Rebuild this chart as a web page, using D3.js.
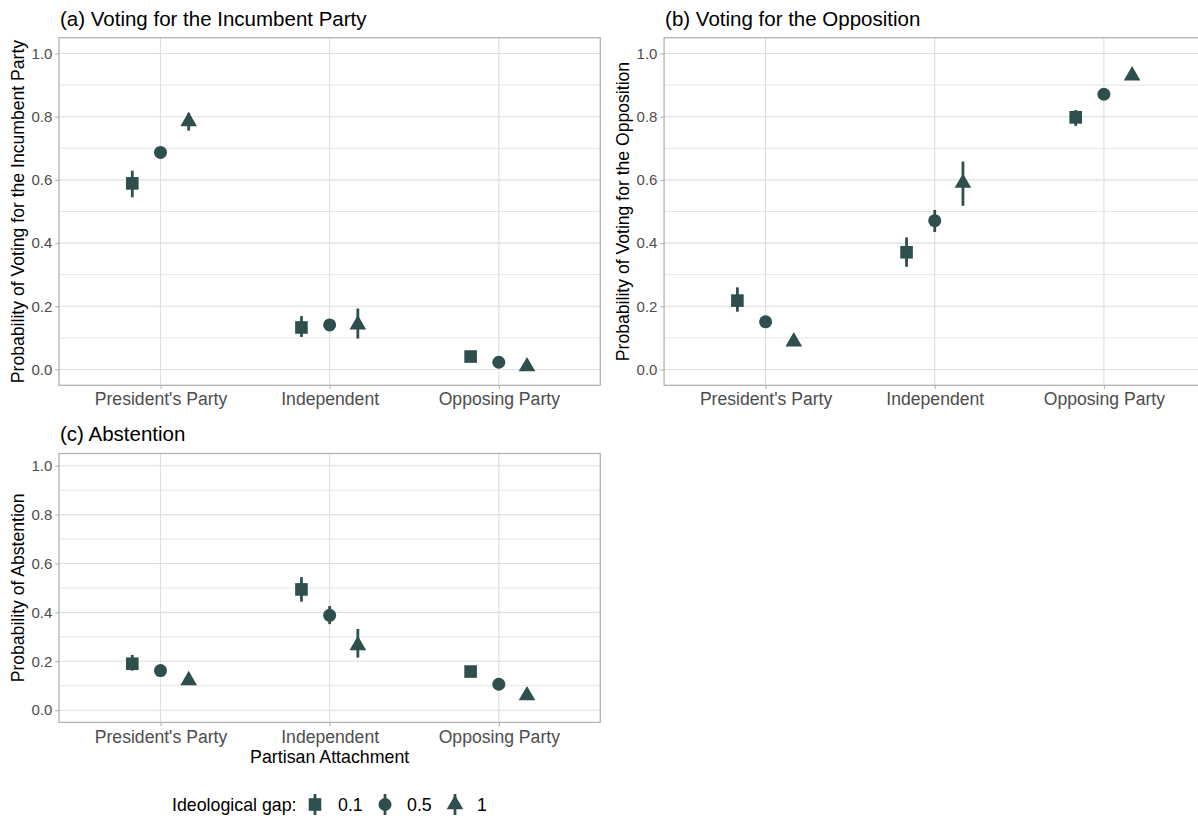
<!DOCTYPE html>
<html>
<head>
<meta charset="utf-8">
<script src="https://cdn.jsdelivr.net/npm/d3@7"></script>
<style>
  body { margin: 0; background: #fff; }
  svg { display: block; }
  text { font-family: "Liberation Sans", Arial, Helvetica, sans-serif; }
</style>
</head>
<body>
<svg id="chart" width="1198" height="816"></svg>
<script>
// Partisan attachment categories and ideological-gap levels
const categories = ["President's Party", "Independent", "Opposing Party"];
const gapLevels = ["0.1", "0.5", "1"];
const yTicks = [0, 0.2, 0.4, 0.6, 0.8, 1.0];
const yMinor = [0.1, 0.3, 0.5, 0.7, 0.9];

// Predicted probabilities: rows = category, columns = ideological gap
const incumbentEst = [[0.589, 0.687, 0.785], [0.133, 0.141, 0.142], [0.041, 0.023, 0.0095]];
const incumbentLo  = [[0.545, 0.673, 0.756], [0.103, 0.122, 0.098], [0.033, 0.017, 0.005]];
const incumbentHi  = [[0.629, 0.701, 0.812], [0.169, 0.160, 0.193], [0.049, 0.029, 0.015]];

const oppositionEst = [[0.218, 0.151, 0.088], [0.371, 0.471, 0.590], [0.798, 0.871, 0.930]];
const oppositionLo  = [[0.183, 0.138, 0.080], [0.325, 0.435, 0.518], [0.771, 0.858, 0.920]];
const oppositionHi  = [[0.260, 0.164, 0.097], [0.418, 0.505, 0.658], [0.821, 0.884, 0.940]];

const abstentionEst = [[0.190, 0.162, 0.122], [0.494, 0.388, 0.265], [0.158, 0.106, 0.060]];
const abstentionLo  = [[0.162, 0.150, 0.112], [0.444, 0.352, 0.215], [0.148, 0.097, 0.054]];
const abstentionHi  = [[0.226, 0.175, 0.132], [0.544, 0.426, 0.332], [0.168, 0.115, 0.066]];

const INK = "#2F4F4F";
const symbolTypes = [d3.symbolSquare, d3.symbolCircle, d3.symbolTriangle];
const symbolSizes = [159, 133, 120];

const svg = d3.select("#chart");
svg.append("rect").attr("width", 1198).attr("height", 816).attr("fill", "#fff");

const panels = [
  { title: "(a) Voting for the Incumbent Party",
    yTitle: "Probability of Voting for the Incumbent Party",
    est: incumbentEst, lo: incumbentLo, hi: incumbentHi,
    x0: 59, x1: 600.3, y0: 37.7, y1: 385.3, titleY: 25.5, yTitleX: 24, tickEnd: 52.3 },
  { title: "(b) Voting for the Opposition",
    yTitle: "Probability of Voting for the Opposition",
    est: oppositionEst, lo: oppositionLo, hi: oppositionHi,
    x0: 664.1, x1: 1205.4, y0: 37.7, y1: 385.3, titleY: 25.5, yTitleX: 628.5 },
  { title: "(c) Abstention",
    yTitle: "Probability of Abstention",
    est: abstentionEst, lo: abstentionLo, hi: abstentionHi,
    x0: 59, x1: 600.3, y0: 453.5, y1: 722.4, titleY: 441, yTitleX: 24,
    xTitle: "Partisan Attachment" }
];

panels.forEach(p => {
  const g = svg.append("g");
  const x = d3.scalePoint().domain(categories).range([p.x0, p.x1]).padding(0.6);
  const step = x.step();
  const dodge = d3.scalePoint().domain(gapLevels).range([-step / 6, step / 6]);
  const y = d3.scaleLinear().domain([-0.05, 1.05]).range([p.y1, p.y0]);

  // grid lines
  g.selectAll(".minor").data(yMinor).join("line")
    .attr("x1", p.x0).attr("x2", p.x1)
    .attr("y1", d => y(d)).attr("y2", d => y(d))
    .attr("stroke", "#E6E6E6").attr("stroke-width", 1);
  g.selectAll(".major").data(yTicks).join("line")
    .attr("x1", p.x0).attr("x2", p.x1)
    .attr("y1", d => y(d)).attr("y2", d => y(d))
    .attr("stroke", "#DEDEDE").attr("stroke-width", 1.1);
  g.selectAll(".vmajor").data(categories).join("line")
    .attr("x1", d => x(d)).attr("x2", d => x(d))
    .attr("y1", p.y0).attr("y2", p.y1)
    .attr("stroke", "#DEDEDE").attr("stroke-width", 1.1);

  // axes
  const ya = g.append("g").attr("transform", `translate(${p.x0},0)`)
    .call(d3.axisLeft(y).tickValues(yTicks).tickFormat(d3.format(".1f")).tickSize(3.7).tickPadding(3));
  ya.select(".domain").remove();
  ya.selectAll("line").attr("stroke", "#B3B3B3").attr("stroke-width", 1.1);
  ya.selectAll("text").attr("fill", "#4D4D4D").style("font-size", "15px")
    .style("font-family", "'Liberation Sans', Arial, sans-serif");

  const xa = g.append("g").attr("transform", `translate(0,${p.y1})`)
    .call(d3.axisBottom(x).tickSize(3.7).tickPadding(4));
  xa.select(".domain").remove();
  xa.selectAll("line").attr("stroke", "#B3B3B3").attr("stroke-width", 1.1);
  xa.selectAll("text").attr("fill", "#4D4D4D").style("font-size", "17.6px")
    .style("font-family", "'Liberation Sans', Arial, sans-serif");

  // point ranges
  const rows = [];
  categories.forEach((c, i) => gapLevels.forEach((gp, j) => {
    rows.push({ c, gp, j, est: p.est[i][j], lo: p.lo[i][j], hi: p.hi[i][j] });
  }));
  const pts = g.selectAll(".pr").data(rows).join("g")
    .attr("transform", d => `translate(${x(d.c) + dodge(d.gp)},0)`);
  pts.append("line")
    .attr("y1", d => y(d.lo)).attr("y2", d => y(d.hi))
    .attr("stroke", INK).attr("stroke-width", 2.8);
  pts.append("path")
    .attr("transform", d => `translate(0,${y(d.est)})`)
    .attr("d", d => d3.symbol(symbolTypes[d.j], symbolSizes[d.j])())
    .attr("fill", INK);

  // panel border
  g.append("rect")
    .attr("x", p.x0).attr("y", p.y0)
    .attr("width", p.x1 - p.x0).attr("height", p.y1 - p.y0)
    .attr("fill", "none").attr("stroke", "#B3B3B3").attr("stroke-width", 1.3);

  // titles
  g.append("text").attr("x", p.x0 + 1).attr("y", p.titleY)
    .attr("fill", "#000").style("font-size", "20.5px").text(p.title);
  g.append("text")
    .attr("transform", `translate(${p.yTitleX},${(p.y0 + p.y1) / 2}) rotate(-90)`)
    .attr("text-anchor", "middle").attr("fill", "#000")
    .style("font-size", "17.6px").text(p.yTitle);
  if (p.xTitle) {
    g.append("text").attr("x", (p.x0 + p.x1) / 2).attr("y", 763)
      .attr("text-anchor", "middle").attr("fill", "#000")
      .style("font-size", "17.8px").text(p.xTitle);
  }
});

// legend
const lg = svg.append("g");
lg.append("text").attr("x", 172).attr("y", 811).attr("fill", "#000")
  .style("font-size", "17.8px").text("Ideological gap:");
const keyX = [315, 385, 455];
const labelX = [338, 407, 477];
gapLevels.forEach((gp, j) => {
  const k = lg.append("g").attr("transform", `translate(${keyX[j]},804.5)`);
  k.append("line").attr("y1", -10.5).attr("y2", 10.5)
    .attr("stroke", INK).attr("stroke-width", 2.8);
  k.append("path").attr("d", d3.symbol(symbolTypes[j], symbolSizes[j])()).attr("fill", INK);
  lg.append("text").attr("x", labelX[j]).attr("y", 811).attr("fill", "#000")
    .style("font-size", "17.8px").text(gp);
});
</script>
</body>
</html>
